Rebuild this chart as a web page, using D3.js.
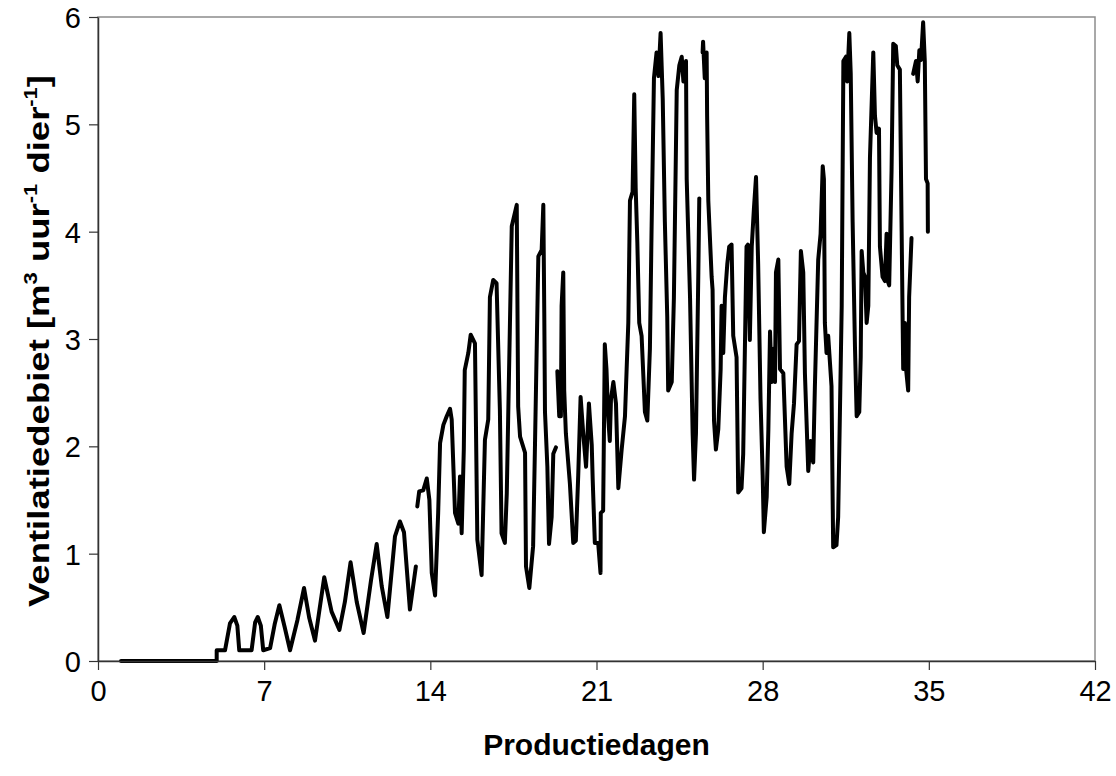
<!DOCTYPE html>
<html>
<head>
<meta charset="utf-8">
<script src="https://cdn.jsdelivr.net/npm/d3@7"></script>
<style>
  body { margin: 0; background: #fff; }
  svg text { font-family: "Liberation Sans", Arial, sans-serif; fill: #000; }
</style>
</head>
<body>
<div id="chart"></div>
<script>
// ventilation flow per animal (null = gap in the record)
const days = [
  0.97, 5.00, 5.00, 5.35, 5.56, 5.74, 5.87, 5.95, 6.47, 6.62, 6.73, 6.86, 6.96, 7.25, 7.45, 7.64, 7.86, 8.09,
  8.40, 8.68, 8.90, 9.14, 9.53, 9.84, 10.17, 10.40, 10.64, 10.90, 11.19, 11.50, 11.74, 11.95, 12.19, 12.51,
  12.72, 12.89, 13.14, 13.39, 13.42,
  13.45, 13.53, 13.70, 13.85, 13.96, 14.06, 14.20, 14.33, 14.41, 14.55, 14.69, 14.83, 14.90, 15.04, 15.18,
  15.25, 15.32, 15.41, 15.45, 15.60, 15.70, 15.88, 15.98, 16.16, 16.30, 16.44, 16.51, 16.65, 16.79, 16.93,
  17.00, 17.14, 17.22, 17.43, 17.64, 17.70, 17.78, 17.99, 18.03, 18.17, 18.33, 18.41, 18.55, 18.69, 18.76,
  18.80, 18.83, 18.93, 19.00, 19.11, 19.18, 19.29, 19.32,
  19.35, 19.43, 19.50, 19.53, 19.60, 19.64, 19.71, 19.88, 20.02, 20.13, 20.23, 20.33, 20.44, 20.56, 20.68,
  20.80, 20.84, 20.93, 21.07, 21.17, 21.18, 21.28, 21.35, 21.42, 21.49, 21.56, 21.61, 21.71, 21.82, 21.92,
  22.06, 22.20, 22.27, 22.34, 22.41, 22.52, 22.59, 22.65, 22.72, 22.80, 22.90, 23.04, 23.14, 23.25, 23.32,
  23.42, 23.53, 23.61, 23.70, 23.79, 23.88, 23.98, 24.02, 24.17, 24.26, 24.38, 24.49, 24.59, 24.66, 24.77,
  24.80, 24.94, 25.05, 25.11, 25.19, 25.29, 25.33, 25.40,
  25.47, 25.49, 25.56, 25.64, 25.66, 25.71, 25.85, 25.89, 25.95, 26.03, 26.13, 26.23, 26.27, 26.34, 26.41,
  26.51, 26.59, 26.69, 26.76, 26.90, 26.97, 27.11, 27.18, 27.32, 27.38, 27.46, 27.54, 27.63, 27.72, 27.81,
  27.91, 28.00, 28.05, 28.17, 28.24, 28.31, 28.38, 28.45, 28.52, 28.56, 28.66, 28.73, 28.87, 29.01, 29.12,
  29.22, 29.32, 29.43, 29.53, 29.61, 29.71, 29.78, 29.92, 30.02, 30.13, 30.20, 30.34, 30.44, 30.53, 30.58,
  30.62, 30.69, 30.76, 30.90, 30.97, 31.11, 31.18, 31.33, 31.40, 31.51, 31.56, 31.65, 31.71, 31.79, 31.89,
  31.96, 32.07, 32.13, 32.17, 32.24, 32.31, 32.38, 32.45, 32.52, 32.66, 32.73, 32.80, 32.90, 32.94, 33.05,
  33.15, 33.22, 33.27, 33.33, 33.43, 33.50, 33.61, 33.67, 33.78, 33.85, 33.92, 33.99, 34.05, 34.13, 34.17,
  34.27, 34.30,
  34.34, 34.46, 34.53, 34.60, 34.67, 34.76, 34.83, 34.88, 34.95, 34.96
];
const flow = [
  0.00, 0.00, 0.10, 0.10, 0.35, 0.41, 0.33, 0.10, 0.10, 0.36, 0.41, 0.33, 0.10, 0.12, 0.35, 0.52, 0.32, 0.10,
  0.38, 0.68, 0.40, 0.19, 0.78, 0.46, 0.29, 0.55, 0.92, 0.55, 0.26, 0.75, 1.09, 0.70, 0.41, 1.16,
  1.30, 1.20, 0.48, 0.88, null,
  1.44, 1.58, 1.59, 1.70, 1.50, 0.82, 0.61, 1.38, 2.03, 2.20, 2.28, 2.35, 2.25, 1.38, 1.28,
  1.72, 1.19, 1.97, 2.71, 2.87, 3.04, 2.96, 1.13, 0.80, 2.06, 2.25, 3.39, 3.55, 3.52, 2.34,
  1.19, 1.10, 1.56, 4.05, 4.25, 2.37, 2.09, 1.94, 0.88, 0.68, 1.07, 2.03, 3.77, 3.83, 4.25,
  3.24, 2.32, 1.81, 1.09, 1.34, 1.93, 1.99, null,
  2.70, 2.28, 2.28, 3.31, 3.62, 2.52, 2.12, 1.65, 1.10, 1.12, 1.73, 2.46, 2.12, 1.81, 2.40,
  2.01, 1.69, 1.10, 1.10, 0.82, 1.38, 1.40, 2.95, 2.72, 2.28, 2.05, 2.44, 2.60, 2.40, 1.61,
  1.97, 2.28, 2.72, 3.15, 4.29, 4.37, 5.28, 4.41, 3.90, 3.15, 3.03, 2.32, 2.24, 2.91, 4.02,
  5.43, 5.67, 5.45, 5.85, 5.24, 4.09, 3.21, 2.52, 2.60, 3.38, 5.32, 5.55, 5.63, 5.40, 5.59,
  4.49, 3.39, 2.12, 1.69, 2.12, 3.62, 4.31, null,
  5.67, 5.77, 5.43, 5.67, 5.08, 4.29, 3.58, 3.46, 2.24, 1.97, 2.16, 2.72, 3.31, 2.87, 3.39,
  3.70, 3.86, 3.88, 3.03, 2.83, 1.57, 1.61, 1.93, 3.86, 3.88, 2.99, 3.86, 4.21, 4.51, 3.70,
  2.44, 1.73, 1.20, 1.53, 2.16, 3.07, 2.60, 2.91, 2.60, 3.62, 3.74, 2.72, 2.68, 1.81, 1.65,
  2.12, 2.40, 2.95, 2.98, 3.82, 3.62, 2.68, 1.77, 2.05, 1.85, 2.56, 3.74, 3.98, 4.61, 4.49,
  3.15, 2.87, 3.03, 2.56, 1.06, 1.08, 1.34, 3.31, 5.59, 5.63, 5.40, 5.85, 5.47, 4.09, 2.91,
  2.28, 2.32, 2.83, 3.82, 3.62, 3.58, 3.15, 3.31, 4.69, 5.67, 5.08, 4.92, 4.96, 3.86, 3.58,
  3.54, 3.98, 3.54, 3.50, 4.57, 5.75, 5.73, 5.55, 5.51, 4.09, 2.72, 3.15, 2.70, 2.52, 3.39,
  3.94, null,
  5.47, 5.59, 5.40, 5.69, 5.60, 5.95, 5.59, 4.49, 4.45, 4.00
];
const xTicks = [0, 7, 14, 21, 28, 35, 42];
const yTicks = [0, 1, 2, 3, 4, 5, 6];
const xTitle = "Productiedagen";

const data = days.map((d, i) => ({ day: d, v: flow[i] }));

const svgWidth = 1116, svgHeight = 776;
const margin = { top: 17, right: 21, bottom: 115, left: 98 };
const width = svgWidth - margin.left - margin.right;
const height = svgHeight - margin.top - margin.bottom;

const svg = d3.select("#chart").append("svg")
    .attr("width", svgWidth)
    .attr("height", svgHeight);

const g = svg.append("g")
    .attr("transform", `translate(${margin.left},${margin.top})`);

const x = d3.scaleLinear().domain([0, 42]).range([0, width]);
const y = d3.scaleLinear().domain([0, 6]).range([height, 0]);

// plot area border (top + right in grey)
g.append("rect")
    .attr("x", 0).attr("y", 0)
    .attr("width", width).attr("height", height)
    .attr("fill", "none")
    .attr("stroke", "#8c8c8c")
    .attr("stroke-width", 1.5);

// line
const line = d3.line()
    .defined(d => d.v !== null)
    .x(d => x(d.day))
    .y(d => y(d.v));

g.append("path")
    .datum(data)
    .attr("fill", "none")
    .attr("stroke", "#000")
    .attr("stroke-width", 4)
    .attr("stroke-linejoin", "round")
    .attr("stroke-linecap", "round")
    .attr("d", line);

// axes
const xAxis = g.append("g")
    .attr("transform", `translate(0,${height})`)
    .call(d3.axisBottom(x).tickValues(xTicks).tickSize(9).tickPadding(10).tickSizeOuter(0));

const yAxis = g.append("g")
    .call(d3.axisLeft(y).tickValues(yTicks).tickFormat(d3.format("d")).tickSize(9).tickPadding(8).tickSizeOuter(0));

[xAxis, yAxis].forEach(a => {
    a.select(".domain").attr("stroke", "#333").attr("stroke-width", 1.5);
    a.selectAll(".tick line").attr("stroke", "#333").attr("stroke-width", 1.2);
    a.selectAll(".tick text")
        .attr("font-family", "Liberation Sans, Arial, sans-serif")
        .attr("font-size", 29)
        .attr("fill", "#000");
});
yAxis.selectAll(".tick text").attr("dy", "0.36em");

// x title
svg.append("text")
    .attr("x", margin.left + width / 2)
    .attr("y", 755)
    .attr("text-anchor", "middle")
    .attr("font-size", 30)
    .attr("font-weight", "bold")
    .text(xTitle);

// y title with superscripts
const yTitle = svg.append("text")
    .attr("transform", `translate(49,341) rotate(-90)`)
    .attr("text-anchor", "middle")
    .attr("font-size", 30)
    .attr("font-weight", "bold")
    .attr("textLength", 532)
    .attr("lengthAdjust", "spacingAndGlyphs");
yTitle.append("tspan").text("Ventilatiedebiet [m");
yTitle.append("tspan").attr("font-size", 18).attr("dy", -12).text("3");
yTitle.append("tspan").attr("dy", 12).text(" uur");
yTitle.append("tspan").attr("font-size", 18).attr("dy", -12).text("-1");
yTitle.append("tspan").attr("dy", 12).text(" dier");
yTitle.append("tspan").attr("font-size", 18).attr("dy", -12).text("-1");
yTitle.append("tspan").attr("dy", 12).text("]");
</script>
</body>
</html>
